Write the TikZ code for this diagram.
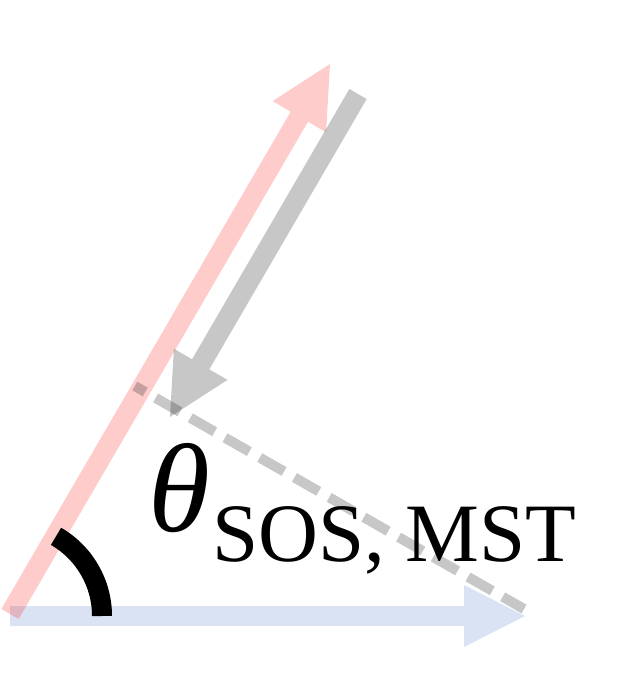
\documentclass[tikz,border=0pt]{standalone}
\usepackage{fontspec}
\setmainfont{Liberation Serif}
\usetikzlibrary{calc}
\definecolor{arrowblue}{RGB}{68,114,196}
\newcommand\myarrow[4]{% #1 style, #2 start, #3 tip, #4 prefix
  \coordinate (#4c) at ($(#3)!61pt!(#2)$);
  \fill[#1] ($(#2)!10pt!90:(#3)$) -- ($(#4c)!10pt!-90:(#2)$) -- ($(#4c)!31pt!-90:(#2)$) -- (#3)
    -- ($(#4c)!31pt!90:(#2)$) -- ($(#4c)!10pt!90:(#2)$) -- ($(#2)!10pt!-90:(#3)$) -- cycle;
}
\tikzset{
  bluearrow/.style={fill=arrowblue, fill opacity=0.2},
  redarrow/.style={fill=red, fill opacity=0.2},
  grayarrow/.style={fill=black, fill opacity=0.22},
  projline/.style={draw=black, draw opacity=0.22, line width=10pt, dash pattern=on 28pt off 12pt, dash phase=16pt},
  anglearc/.style={draw=black, line width=20pt},
}
\begin{document}
\begin{tikzpicture}[x=1pt,y=-1pt]
\useasboundingbox (0,0) rectangle (627,678);
\coordinate (bs) at (10,616);
\coordinate (bt) at (525,616);
\coordinate (rs) at (10,614);
\coordinate (rt) at (330,64);
\coordinate (gs) at (358,94);
\coordinate (gt) at (170,417);
\coordinate (ds) at (134.8,386);
\coordinate (de) at (524,609);
\coordinate (o) at (10,616);
\myarrow{bluearrow}{bs}{bt}{b}
\myarrow{redarrow}{rs}{rt}{r}
\myarrow{grayarrow}{gs}{gt}{g}
\draw[projline] (ds) -- (de);
\draw[anglearc] ($(o)+(92,0)$) arc[start angle=0, end angle=-60, radius=92];
\node[anchor=base west, inner sep=0] (lbl) at (148,531)
  {\fontsize{126}{126}\selectfont\itshape θ\upshape\kern2pt\raisebox{-30pt}{\fontsize{83}{83}\selectfont SOS, MST}};
\end{tikzpicture}
\end{document}
